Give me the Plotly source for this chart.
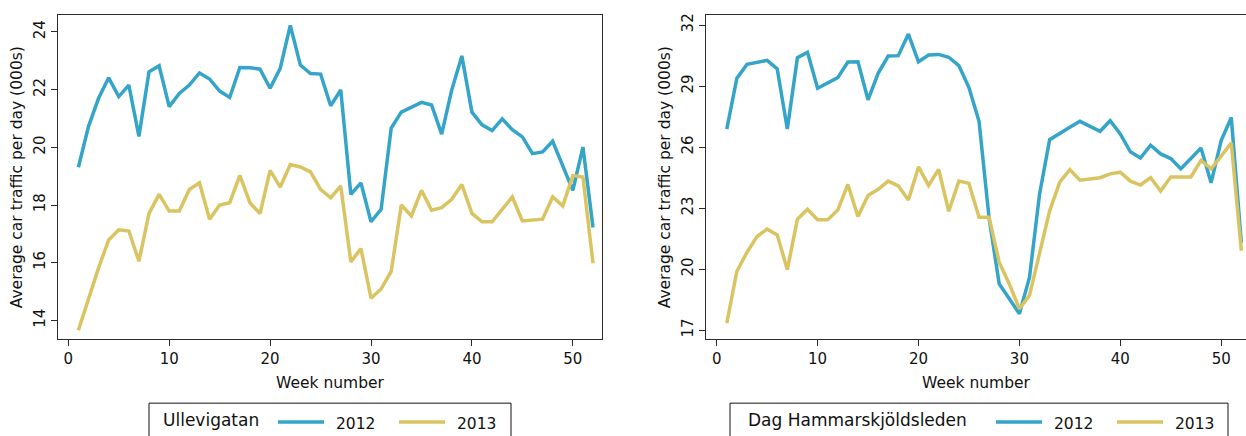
import plotly.graph_objects as go

weeks = list(range(1, 53))

ulle_2012 = [19.31, 20.72, 21.70, 22.41, 21.76, 22.16, 20.38, 22.62, 22.83, 21.41,
             21.87, 22.16, 22.58, 22.37, 21.95, 21.73, 22.77, 22.76, 22.71, 22.05,
             22.74, 24.23, 22.85, 22.56, 22.54, 21.44, 21.99, 18.37, 18.77, 17.42,
             17.85, 20.67, 21.22, 21.38, 21.56, 21.47, 20.46, 21.99, 23.17, 21.22,
             20.78, 20.58, 20.99, 20.61, 20.36, 19.78, 19.84, 20.21, 19.34, 18.51,
             20.01, 17.22]
ulle_2013 = [13.66, 14.78, 15.82, 16.79, 17.14, 17.10, 16.05, 17.71, 18.37, 17.79,
             17.79, 18.54, 18.77, 17.51, 18.00, 18.08, 19.03, 18.08, 17.70, 19.20,
             18.62, 19.40, 19.32, 19.15, 18.54, 18.25, 18.66, 16.03, 16.49, 14.77,
             15.09, 15.70, 18.00, 17.62, 18.51, 17.82, 17.91, 18.20, 18.71, 17.71,
             17.42, 17.42, 17.85, 18.28, 17.45, 17.47, 17.51, 18.28, 17.97, 19.02,
             18.97, 15.98]

dag_2012 = [26.89, 29.39, 30.07, 30.16, 30.27, 29.85, 26.89, 30.40, 30.66, 28.90,
            29.14, 29.42, 30.19, 30.20, 28.33, 29.63, 30.48, 30.50, 31.56, 30.20,
            30.53, 30.56, 30.42, 30.01, 28.93, 27.27, 22.50, 19.28, 18.55, 17.81,
            19.60, 23.70, 26.37, 26.70, 26.98, 27.27, 27.02, 26.78, 27.30, 26.65,
            25.77, 25.47, 26.10, 25.67, 25.44, 24.94, 25.44, 25.96, 24.25, 26.32,
            27.46, 21.30]
dag_2013 = [17.35, 19.90, 20.83, 21.61, 21.97, 21.69, 19.98, 22.46, 22.95, 22.43,
            22.43, 22.91, 24.17, 22.59, 23.63, 23.93, 24.33, 24.10, 23.40, 25.03,
            24.12, 24.91, 22.85, 24.33, 24.22, 22.55, 22.55, 20.34, 19.28, 18.06,
            18.71, 20.80, 22.87, 24.28, 24.90, 24.38, 24.45, 24.50, 24.69, 24.77,
            24.33, 24.14, 24.50, 23.84, 24.54, 24.53, 24.54, 25.35, 24.94, 25.56,
            26.21, 20.91]

x_ticks = [0, 10, 20, 30, 40, 50]
ulle_yticks = [14, 16, 18, 20, 22, 24]
dag_yticks = [17, 20, 23, 26, 29, 32]

roads = ["Ullevigatan", "Dag Hammarskjöldsleden"]
years = ["2012", "2013"]

BLUE = "#34a4c9"
GOLD = "#dac462"
AXIS = "#2b2b2b"
FONT = "DejaVu Sans"
W, H = 1246, 436

fig = go.Figure()
fig.add_trace(go.Scatter(x=weeks, y=ulle_2012, mode="lines", line=dict(color=BLUE, width=3.5),
                         xaxis="x", yaxis="y", name="2012", showlegend=False))
fig.add_trace(go.Scatter(x=weeks, y=ulle_2013, mode="lines", line=dict(color=GOLD, width=3.5),
                         xaxis="x", yaxis="y", name="2013", showlegend=False))
fig.add_trace(go.Scatter(x=weeks, y=dag_2012, mode="lines", line=dict(color=BLUE, width=3.5),
                         xaxis="x2", yaxis="y2", name="2012", showlegend=False))
fig.add_trace(go.Scatter(x=weeks, y=dag_2013, mode="lines", line=dict(color=GOLD, width=3.5),
                         xaxis="x2", yaxis="y2", name="2013", showlegend=False))

def px_x(p):
    return p / W

def px_y(p):
    return 1 - p / H

ydom = [px_y(339), px_y(13)]

common_x = dict(showgrid=False, zeroline=False, showline=True, linecolor=AXIS, linewidth=1,
                ticks="outside", ticklen=6, tickcolor=AXIS, tickvals=x_ticks,
                tickfont=dict(family=FONT, size=15, color="#111"),
                title=dict(text="Week number", font=dict(family=FONT, size=15.5, color="#111"), standoff=9))
common_y = dict(showgrid=False, zeroline=False, showline=True, linecolor=AXIS, linewidth=1,
                ticks="outside", ticklen=6, tickcolor=AXIS, tickangle=-90,
                tickfont=dict(family=FONT, size=15, color="#111"),
                title=dict(text="Average car traffic per day (000s)",
                           font=dict(family=FONT, size=15.5, color="#111"), standoff=4))

fig.update_layout(
    width=W, height=H, margin=dict(l=0, r=0, t=0, b=0),
    paper_bgcolor="white", plot_bgcolor="white",
    font=dict(family=FONT, color="#111"),
    xaxis=dict(domain=[px_x(58), px_x(602)], range=[-1.02, 52.89], anchor="y", mirror=True, **common_x),
    yaxis=dict(domain=ydom, range=[13.34, 24.59], anchor="x", mirror=True, tickvals=ulle_yticks, **common_y),
    xaxis2=dict(domain=[px_x(706), 1.0], range=[-1.06, 52.46], anchor="y2", mirror=True, **common_x),
    yaxis2=dict(domain=ydom, range=[16.55, 32.5], anchor="x2", mirror=False, tickvals=dag_yticks, **common_y),
)

# legend boxes (drawn as boxes with sample lines and labels)
def legend(x0, x1, title, title_x, s1, s2):
    fig.add_shape(type="rect", xref="paper", yref="paper", x0=px_x(x0), x1=px_x(x1),
                  y0=px_y(460), y1=px_y(403), line=dict(color="#111", width=1), fillcolor="white", layer="above")
    fig.add_annotation(xref="paper", yref="paper", x=px_x(title_x), y=px_y(420), text=title,
                       showarrow=False, xanchor="left", yanchor="middle",
                       font=dict(family=FONT, size=17, color="#111"))
    for (a, b), col, lab in zip([s1, s2], [BLUE, GOLD], years):
        fig.add_shape(type="line", xref="paper", yref="paper", x0=px_x(a), x1=px_x(b),
                      y0=px_y(422), y1=px_y(422), line=dict(color=col, width=3.5))
        fig.add_annotation(xref="paper", yref="paper", x=px_x(b + 10), y=px_y(423.5), text=lab,
                           showarrow=False, xanchor="left", yanchor="middle",
                           font=dict(family=FONT, size=15.5, color="#111"))

legend(149, 511, roads[0], 161, (278, 324), (399, 445))
legend(730, 1228, roads[1], 746, (996, 1042), (1117, 1163))

fig.write_html("out.html",
               config={"displayModeBar": False, "staticPlot": True},
               post_script="document.body.style.margin='0';document.body.style.overflow='hidden';")
